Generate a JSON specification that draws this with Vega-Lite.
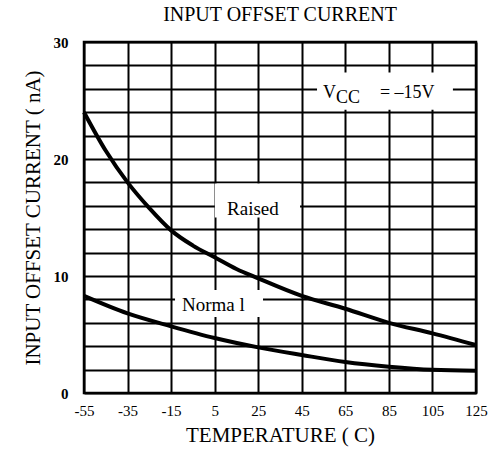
{
  "$schema": "https://vega.github.io/schema/vega-lite/v6.json",
  "autosize": "none",
  "width": 392,
  "height": 351,
  "padding": {"left": 84, "top": 42, "right": 20, "bottom": 66},
  "background": "white",
  "config": {
    "font": "Liberation Serif",
    "view": {"stroke": "black", "strokeWidth": 2.5},
    "title": {"font": "Liberation Serif", "fontSize": 20, "fontWeight": "normal", "color": "black", "offset": 10}
  },
  "title": {"text": "INPUT OFFSET CURRENT"},
  "datasets": {
    "curves": [
      {"series": "Raised", "t": -55, "v": 24.0},
      {"series": "Raised", "t": -45, "v": 20.7},
      {"series": "Raised", "t": -35, "v": 18.0},
      {"series": "Raised", "t": -25, "v": 15.8},
      {"series": "Raised", "t": -15, "v": 13.9},
      {"series": "Raised", "t": -5, "v": 12.6},
      {"series": "Raised", "t": 5, "v": 11.6},
      {"series": "Raised", "t": 15, "v": 10.6},
      {"series": "Raised", "t": 25, "v": 9.8},
      {"series": "Raised", "t": 45, "v": 8.3},
      {"series": "Raised", "t": 65, "v": 7.2},
      {"series": "Raised", "t": 85, "v": 6.0},
      {"series": "Raised", "t": 105, "v": 5.1},
      {"series": "Raised", "t": 125, "v": 4.1},
      {"series": "Normal", "t": -55, "v": 8.3},
      {"series": "Normal", "t": -35, "v": 6.8},
      {"series": "Normal", "t": -15, "v": 5.7},
      {"series": "Normal", "t": 5, "v": 4.7},
      {"series": "Normal", "t": 25, "v": 3.9},
      {"series": "Normal", "t": 45, "v": 3.25},
      {"series": "Normal", "t": 65, "v": 2.65},
      {"series": "Normal", "t": 85, "v": 2.25},
      {"series": "Normal", "t": 105, "v": 1.98},
      {"series": "Normal", "t": 125, "v": 1.9}
    ],
    "boxes": [
      {"name": "vcc", "t1": 52, "t2": 114.4, "v1": 24.2, "v2": 27.4},
      {"name": "raised", "t1": 5.1, "t2": 44.2, "v1": 15.0, "v2": 17.9},
      {"name": "normal", "t1": -13.2, "t2": 27.2, "v1": 6.5, "v2": 8.8}
    ]
  },
  "layer": [
    {
      "data": {"name": "curves"},
      "mark": {"type": "line", "color": "black", "strokeWidth": 4, "interpolate": "monotone"},
      "encoding": {
        "x": {
          "field": "t", "type": "quantitative",
          "scale": {"domain": [-55, 125], "nice": false, "zero": false},
          "axis": {
            "values": [-55, -35, -15, 5, 25, 45, 65, 85, 105, 125],
            "tickCount": 20,
            "labelExpr": "'' + datum.value",
            "title": "TEMPERATURE ( C)",
            "titleFont": "Liberation Serif", "titleFontSize": 21, "titleFontWeight": "normal", "titleColor": "black", "titlePadding": 6,
            "labelFont": "Liberation Serif", "labelFontSize": 15, "labelColor": "black", "labelPadding": 10,
            "labelOverlap": false, "labelFlush": false,
            "ticks": false, "domain": false,
            "grid": true, "gridColor": "black", "gridWidth": 2, "gridOpacity": 1
          }
        },
        "y": {
          "field": "v", "type": "quantitative",
          "scale": {"domain": [0, 30], "nice": false},
          "axis": {
            "values": [0, 2, 4, 6, 8, 10, 12, 14, 16, 18, 20, 22, 24, 26, 28, 30],
            "tickCount": 30,
            "labelExpr": "datum.value % 10 == 0 ? datum.label : ''",
            "title": "INPUT OFFSET CURRENT ( nA)",
            "titleFont": "Liberation Serif", "titleFontSize": 21, "titleFontWeight": "normal", "titleColor": "black", "titlePadding": 10,
            "labelFont": "Liberation Serif", "labelFontSize": 15, "labelFontWeight": "bold", "labelColor": "black", "labelPadding": 16,
            "labelOverlap": false, "labelFlush": false,
            "ticks": false, "domain": false,
            "grid": true, "gridColor": "black", "gridWidth": 2, "gridOpacity": 1
          }
        },
        "detail": {"field": "series"}
      }
    },
    {
      "data": {"name": "boxes"},
      "mark": {"type": "rect", "color": "white", "opacity": 1},
      "encoding": {
        "x": {"field": "t1", "type": "quantitative"},
        "x2": {"field": "t2"},
        "y": {"field": "v1", "type": "quantitative"},
        "y2": {"field": "v2"}
      }
    },
    {
      "data": {"values": [{"t": 54.7, "v": 25.2, "label": "V"}, {"t": 60.7, "v": 24.8, "label": "CC"}, {"t": 80.9, "v": 25.2, "label": "= \u201315V"}]},
      "mark": {"type": "text", "align": "left", "baseline": "alphabetic", "fontSize": 18, "color": "black", "font": "Liberation Serif"},
      "encoding": {
        "x": {"field": "t", "type": "quantitative"},
        "y": {"field": "v", "type": "quantitative"},
        "text": {"field": "label"}
      }
    },
    {
      "data": {"values": [{"t": 10.7, "v": 15.2, "label": "Raised"}, {"t": -10, "v": 7.0, "label": "Norma l"}]},
      "mark": {"type": "text", "align": "left", "baseline": "alphabetic", "fontSize": 19, "color": "black", "font": "Liberation Serif"},
      "encoding": {
        "x": {"field": "t", "type": "quantitative"},
        "y": {"field": "v", "type": "quantitative"},
        "text": {"field": "label"}
      }
    }
  ]
}
